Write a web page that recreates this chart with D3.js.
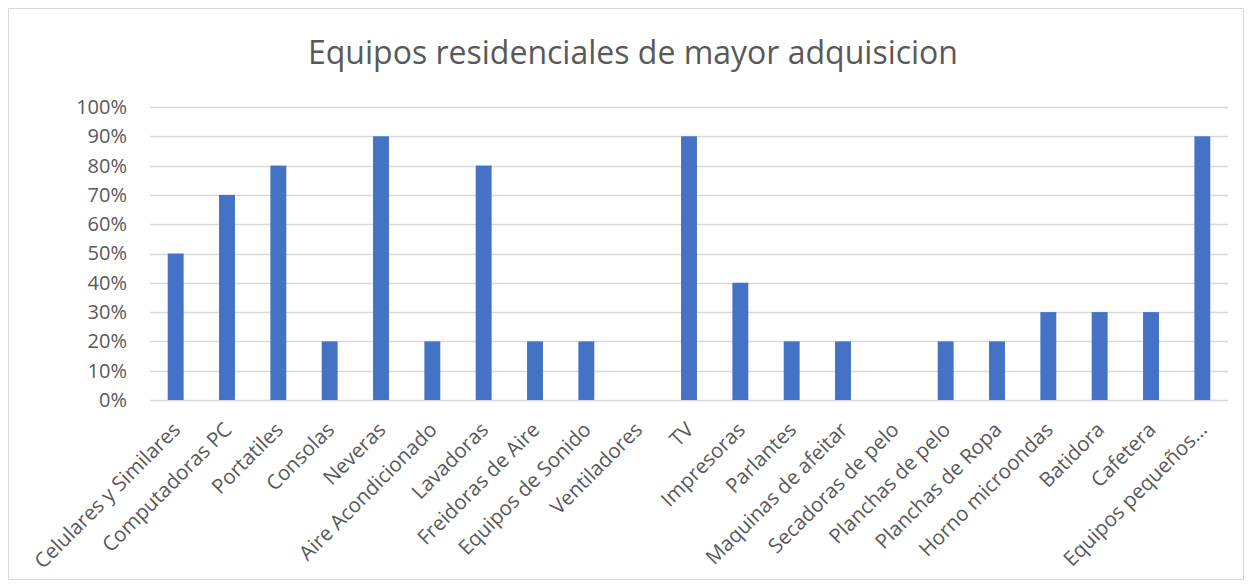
<!DOCTYPE html>
<html>
<head>
<meta charset="utf-8">
<script src="https://cdn.jsdelivr.net/npm/d3@7"></script>
<style>
  body { margin: 0; background: #fff; }
  text { font-family: "Open Sans", "Noto Sans", sans-serif; fill: #595959; }
</style>
</head>
<body>
<script>
let categories = [
  "Celulares y Similares", "Computadoras PC", "Portatiles", "Consolas", "Neveras",
  "Aire Acondicionado", "Lavadoras", "Freidoras de Aire", "Equipos de Sonido", "Ventiladores",
  "TV", "Impresoras", "Parlantes", "Maquinas de afeitar", "Secadoras de pelo",
  "Planchas de pelo", "Planchas de Ropa", "Horno microondas", "Batidora", "Cafetera",
  "Equipos pequeños…"
];
let values = [0.5, 0.7, 0.8, 0.2, 0.9, 0.2, 0.8, 0.2, 0.2, 0, 0.9, 0.4, 0.2, 0.2, 0, 0.2, 0.2, 0.3, 0.3, 0.3, 0.9];
let yTicks = [0, 0.1, 0.2, 0.3, 0.4, 0.5, 0.6, 0.7, 0.8, 0.9, 1];
let title = "Equipos residenciales de mayor adquisicion";

let svgWidth = 1252;
let svgHeight = 588;

let margins = { top: 107, right: 24, bottom: 188, left: 150 };
let chartWidth = svgWidth - margins.left - margins.right;
let chartHeight = svgHeight - margins.top - margins.bottom;

let svg = d3.select('body')
  .append('svg')
  .attr('width', svgWidth)
  .attr('height', svgHeight);

// chart border
svg.append('rect')
  .attr('x', 8.5).attr('y', 8.5)
  .attr('width', 1235).attr('height', 571)
  .attr('fill', '#fff')
  .attr('stroke', '#d9d9d9');

let chart = svg.append('g')
  .attr('transform', `translate(${margins.left}, ${margins.top})`);

let x = d3.scaleBand()
  .domain(categories)
  .range([0, chartWidth])
  .paddingInner(0.69)
  .paddingOuter(0.345);

let y = d3.scaleLinear()
  .domain([0, 1])
  .range([chartHeight, 0]);

// gridlines
chart.append('g')
  .selectAll('line')
  .data(yTicks)
  .enter()
  .append('line')
  .attr('x1', 0)
  .attr('x2', chartWidth)
  .attr('y1', d => Math.round(y(d)) + 0.5)
  .attr('y2', d => Math.round(y(d)) + 0.5)
  .attr('stroke', '#d9d9d9')
  .attr('stroke-width', 1.3);

let leftAxis = d3.axisLeft(y)
  .tickValues(yTicks)
  .tickFormat(d3.format('.0%'))
  .tickSize(0)
  .tickPadding(23);

let yAxis = chart.append('g').call(leftAxis);
yAxis.select('.domain').remove();
yAxis.selectAll('text')
  .style('font-size', '20px')
  .attr('fill', '#595959');

chart.append('g')
  .selectAll('rect')
  .data(values)
  .enter()
  .append('rect')
  .attr('x', (d, i) => x(categories[i]))
  .attr('y', d => y(d))
  .attr('width', x.bandwidth())
  .attr('height', d => chartHeight - y(d))
  .attr('fill', '#4472c4');

// rotated category labels
chart.append('g')
  .selectAll('text')
  .data(categories)
  .enter()
  .append('text')
  .attr('transform', d => `translate(${x(d) + x.bandwidth() / 2 + 6}, ${chartHeight + 31}) rotate(-45)`)
  .attr('text-anchor', 'end')
  .style('font-size', '20.5px')
  .text(d => d);

svg.append('text')
  .attr('x', 633)
  .attr('y', 64)
  .attr('text-anchor', 'middle')
  .style('font-size', '32px')
  .text(title);
</script>
</body>
</html>
